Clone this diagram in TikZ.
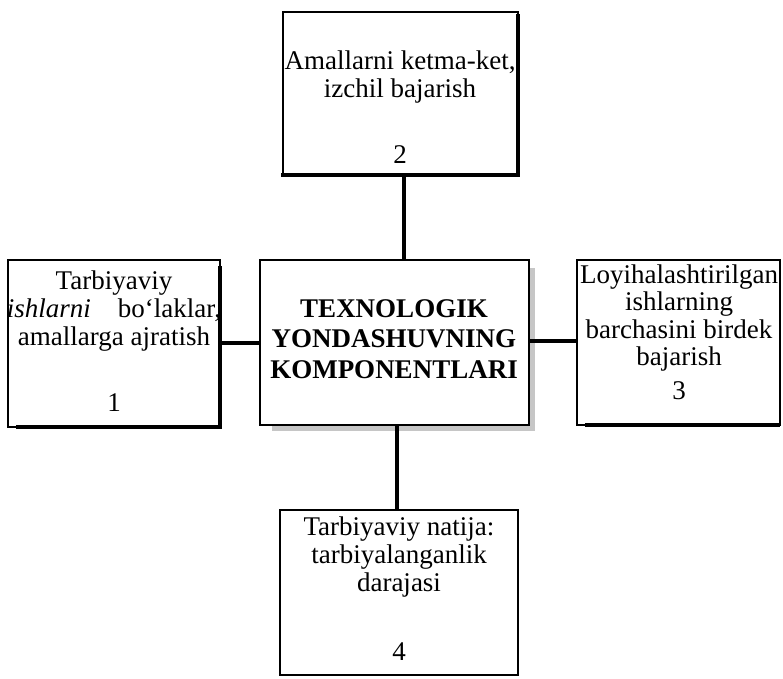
\documentclass[tikz,border=0pt]{standalone}
\usepackage{fontspec}
\setmainfont{Liberation Serif}
\begin{document}
\begin{tikzpicture}[x=1pt,y=-1pt,
  box/.style={draw,line width=1.3pt,inner sep=0pt,outer sep=0pt,anchor=north west},
  link/.style={line width=4pt},
  shadowline/.style={line width=3.2pt},
  txt/.style={font=\fontsize{27}{28}\selectfont,align=center,inner sep=0pt},
  btxt/.style={font=\fontsize{27}{30.5}\selectfont\bfseries,align=center,inner sep=0pt}]
\useasboundingbox (0,0) rectangle (783,678);
% boxes
\node[box,minimum width=235pt,minimum height=163pt] (top) at (283,12) {};
\node[box,minimum width=269pt,minimum height=165pt] (center) at (260,260) {};
\node[box,minimum width=212pt,minimum height=167pt] (left) at (8,260) {};
\node[box,minimum width=203pt,minimum height=165pt] (right) at (577,260) {};
\node[box,minimum width=238pt,minimum height=165pt] (bottom) at (280,510) {};
% shadows
\draw[shadowline] ([yshift=-2pt]top.north east) -- (top.south east) -- ([xshift=-2pt]top.south west);
\draw[shadowline] ([yshift=-6pt]left.north east) -- (left.south east) -- ([xshift=8pt]left.south west);
\draw[shadowline] ([xshift=8pt]right.south west) -- (right.south east);
\draw[line width=5pt,gray!45] ([xshift=3.5pt,yshift=-8pt]center.north east) -- ([xshift=3.5pt,yshift=-3.5pt]center.south east) -- ([xshift=12pt,yshift=-3.5pt]center.south west);
% connectors
\draw[link] ([xshift=3pt]top.south) -- ([xshift=3pt]top.south |- center.north);
\draw[link] (left.east |- 0,343) -- (center.west |- 0,343);
\draw[link] (center.east |- 0,341) -- (right.west |- 0,341);
\draw[link] ([xshift=2pt]center.south) -- ([xshift=2pt]center.south |- bottom.north);
% texts
\node[txt] (t2) at (400,77) {Amallarni ketma-ket,\\izchil bajarish};
\node[txt] (n2) at (400,155) {2};
\node[btxt] (tc) at (394,339) {TEXNOLOGIK\\YONDASHUVNING\\KOMPONENTLARI};
\node[txt] (t1) at (114,311) {Tarbiyaviy\\\textit{ishlarni}\quad bo‘laklar,\\amallarga ajratish};
\node[txt] (n1) at (114,403) {1};
\node[txt,font=\fontsize{27}{27.5}\selectfont] (t3) at (679,318) {Loyihalashtirilgan\\ishlarning\\barchasini birdek\\bajarish};
\node[txt] (n3) at (679,391) {3};
\node[txt] (t4) at (399,557) {Tarbiyaviy natija:\\tarbiyalanganlik\\darajasi};
\node[txt] (n4) at (399,652) {4};
\end{tikzpicture}
\end{document}
